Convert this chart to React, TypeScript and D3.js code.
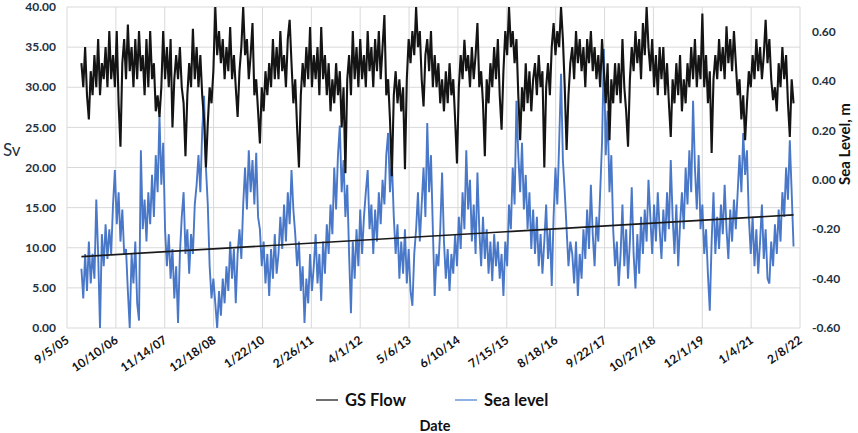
import React, { useEffect, useRef } from 'react';
import * as d3 from 'd3';

// semi-monthly readings, one row per year (2006..2021)
const years = [2006, 2007, 2008, 2009, 2010, 2011, 2012, 2013, 2014, 2015, 2016, 2017, 2018, 2019, 2020, 2021];
const samplesPerYear = 24;

// GS Flow, Sv (left axis)
const gsFlow: number[][] = [
  [33, 30, 35, 29, 26, 32, 29, 34, 30, 36, 29, 33, 31, 35, 30, 37, 31, 34, 30, 37, 28, 22.6, 33, 36],
  [31, 37.8, 32, 35, 30, 36, 31, 37, 32, 34, 29, 36, 30, 37, 31, 33, 27, 29, 26.3, 30, 37, 31, 35, 30],
  [36, 25, 31, 34, 31, 35, 30, 28, 21.4, 29, 33, 30, 37.3, 31, 35, 30, 34, 29, 26, 20, 25.5, 30, 28, 32],
  [40, 34, 37, 33, 36, 31, 35, 32, 37.5, 31, 34, 30, 26.3, 32, 35, 40, 34, 36, 31, 34, 38, 29, 31, 27],
  [23, 30, 27, 32, 29, 33, 30, 36, 31, 35, 31, 37, 32, 34, 30, 36, 38.4, 33, 28, 31, 25, 20, 29, 33],
  [30, 35, 31, 37.5, 30, 34, 31, 35, 29, 37.5, 31, 34, 29, 33, 27, 31, 28, 33, 29, 32, 25, 30, 19.3, 31],
  [34, 29, 37, 31, 35, 30, 36, 31, 34, 30, 37, 32, 35, 30, 36, 32, 37, 31, 35, 39, 29, 31, 26, 18.9],
  [29, 32, 28, 31, 27, 30, 19.8, 31, 36, 33, 37, 34, 40, 35, 37, 31, 27.6, 34, 36, 32, 37, 30, 34, 30],
  [33, 28, 31, 27, 32, 28, 33, 29, 31, 26, 20.5, 30, 34, 31, 35.9, 32, 34, 30, 35, 31, 34, 38, 30, 32],
  [28, 21.4, 31, 28, 33, 30, 35, 31, 36, 29, 24.7, 32, 37, 34, 40, 35, 37, 33, 36, 29, 23.4, 30, 27, 33],
  [28, 32, 27, 31, 33, 29, 34, 30, 32, 20, 30, 33, 29, 35, 38, 34, 37, 35, 40, 36, 30, 22.2, 29, 33],
  [35, 31, 37, 33, 36, 32, 35, 30, 36, 33, 37, 32, 35, 31, 34, 30, 36, 32, 28, 33, 23.4, 31, 28, 33],
  [29, 33, 28, 36, 30, 27, 22.6, 31, 35, 32, 37, 33, 36, 31, 38, 34, 40, 35, 32, 36, 30, 34, 29, 35],
  [31, 35, 29, 33, 28, 23.8, 31, 28, 33, 29, 34, 27, 31, 28, 33, 30, 35, 31, 36, 30, 34, 31, 39.2, 30],
  [34, 28, 32, 21.8, 31, 34, 31, 36, 32, 35, 31, 37.6, 33, 36, 32, 37, 33, 29, 31, 26, 29, 23.4, 28, 32],
  [30, 34, 31, 36, 32, 35, 31, 34, 38.4, 33, 36, 31, 28.4, 30, 27, 33, 30, 35, 31, 34, 28, 23.8, 31, 28],
];

// Sea level, m (right axis)
const seaLevel: number[][] = [
  [-0.36, -0.48, -0.3, -0.45, -0.25, -0.42, -0.3, -0.4, -0.08, -0.3, -0.6, -0.22, -0.35, -0.18, -0.32, -0.2, -0.3, -0.1, 0.04, -0.18, -0.05, -0.25, -0.12, -0.3],
  [-0.28, -0.45, -0.6, -0.3, -0.42, -0.25, -0.5, -0.57, 0.12, -0.2, -0.08, -0.25, -0.05, -0.18, 0.02, -0.15, 0.1, -0.05, 0.26, -0.02, 0.15, -0.2, -0.35, -0.22],
  [-0.4, -0.28, -0.48, -0.35, -0.58, -0.3, -0.15, -0.05, -0.3, -0.2, -0.38, -0.22, -0.3, -0.1, -0.02, 0.1, -0.05, 0.2, 0.34, 0.05, -0.1, -0.35, -0.48, -0.4],
  [-0.5, -0.6, -0.45, -0.55, -0.4, -0.5, -0.35, -0.45, -0.25, -0.4, -0.28, -0.5, -0.3, -0.2, -0.32, -0.1, 0.05, -0.12, 0.12, -0.05, 0.08, -0.1, 0.11, -0.15],
  [-0.2, -0.35, -0.25, -0.42, -0.3, -0.47, -0.28, -0.4, -0.22, -0.38, -0.3, -0.15, -0.28, -0.1, -0.25, -0.05, -0.18, 0.04, -0.12, -0.22, -0.35, -0.25, -0.45, -0.35],
  [-0.58, -0.4, -0.5, -0.3, -0.45, -0.35, -0.22, -0.42, -0.3, -0.49, -0.25, -0.38, -0.18, -0.3, -0.1, -0.22, 0.05, -0.12, 0.1, 0.22, -0.05, 0.08, -0.15, -0.02],
  [-0.3, -0.54, -0.25, -0.4, -0.2, -0.35, -0.12, -0.3, -0.15, -0.05, 0.04, -0.2, -0.1, -0.3, -0.12, -0.25, -0.05, -0.18, 0, -0.1, 0.1, 0.19, -0.05, 0.08],
  [-0.15, -0.3, -0.18, -0.4, -0.25, -0.38, -0.2, -0.42, -0.28, -0.45, -0.51, -0.3, -0.2, -0.05, -0.25, -0.1, 0.05, -0.15, 0.23, -0.05, 0.1, -0.2, -0.47, -0.3],
  [-0.35, -0.2, 0.03, -0.25, -0.4, -0.28, -0.45, -0.3, -0.38, -0.22, -0.35, -0.15, -0.28, -0.05, -0.2, 0.12, -0.12, 0, -0.25, -0.1, -0.3, 0.03, -0.2, -0.35],
  [-0.15, -0.32, -0.2, -0.38, -0.25, -0.41, -0.22, -0.35, -0.25, -0.4, -0.3, -0.47, -0.25, -0.35, -0.1, -0.2, 0.05, -0.1, 0.32, 0.1, -0.05, 0.15, -0.12, 0.02],
  [-0.2, -0.05, -0.28, -0.12, -0.3, -0.15, -0.35, -0.22, -0.38, -0.25, -0.1, -0.32, -0.2, -0.43, -0.15, 0.05, -0.1, 0.15, 0.43, 0.08, -0.05, -0.2, -0.35, -0.25],
  [-0.3, -0.42, -0.25, -0.47, -0.3, -0.4, -0.2, -0.32, -0.12, -0.28, -0.02, -0.22, -0.35, -0.15, -0.25, -0.05, 0.15, 0.53, 0.1, 0.28, -0.05, 0.1, -0.2, -0.35],
  [-0.25, -0.43, -0.3, -0.1, -0.35, -0.2, -0.4, -0.25, -0.03, -0.3, -0.44, -0.22, -0.38, -0.15, -0.3, -0.12, -0.25, 0, -0.15, -0.3, -0.1, -0.25, -0.05, -0.2],
  [-0.32, -0.12, -0.25, -0.05, -0.2, 0.08, -0.15, -0.3, -0.1, -0.35, -0.18, -0.05, -0.2, 0.05, -0.1, 0.12, -0.05, 0.32, 0.05, -0.12, 0.1, -0.2, -0.1, -0.3],
  [-0.2, -0.38, -0.53, -0.25, -0.05, -0.3, -0.15, -0.28, -0.1, -0.22, -0.02, -0.2, -0.32, -0.12, -0.25, -0.08, -0.2, -0.05, 0.1, -0.05, 0.19, 0.02, 0.12, -0.15],
  [-0.3, -0.15, -0.35, -0.2, -0.38, -0.25, -0.1, -0.32, -0.2, -0.4, -0.42, -0.25, -0.35, -0.18, -0.3, -0.12, -0.25, -0.05, -0.15, 0.05, -0.08, 0.16, -0.05, -0.27],
];

// linear trend of sea level, first and last sample
const seaLevelTrend = [-0.311, -0.142];

const dateTicks = ['9/5/05', '10/10/06', '11/14/07', '12/18/08', '1/22/10', '2/26/11', '4/1/12', '5/6/13',
  '6/10/14', '7/15/15', '8/18/16', '9/22/17', '10/27/18', '12/1/19', '1/4/21', '2/8/22'];
const leftTicks = [0, 5, 10, 15, 20, 25, 30, 35, 40];
const rightTicks = [-0.6, -0.4, -0.2, 0, 0.2, 0.4, 0.6];

const W = 858;
const H = 433;

const App: React.FC = () => {
  const svgRef = useRef<SVGSVGElement>(null);

  useEffect(() => {
    if (!svgRef.current) return;
    const svg = d3.select(svgRef.current);
    svg.selectAll('*').remove();

    const margin = { top: 7, right: 58, bottom: 105, left: 67 };
    const x0 = margin.left, x1 = W - margin.right;
    const y0 = margin.top, y1 = H - margin.bottom;

    const parse = d3.timeParse('%m/%d/%y');
    const tickDates = dateTicks.map(s => parse(s) as Date);

    const x = d3.scaleTime().domain([tickDates[0], tickDates[tickDates.length - 1]]).range([x0, x1]);
    const yL = d3.scaleLinear().domain([0, 40]).range([y1, y0]);
    const yR = d3.scaleLinear().domain([-0.6, 0.7]).range([y1, y0]);

    const dayMs = 86400000;
    const step = 365.25 / samplesPerYear;
    const toPoints = (rows: number[][]) =>
      rows.flatMap((row, i) => {
        const start = new Date(years[i], 0, 1).getTime();
        return row.map((v, k) => ({ date: new Date(start + k * step * dayMs), v }));
      });
    const flowPts = toPoints(gsFlow);
    const seaPts = toPoints(seaLevel);

    const clipId = 'plot-clip';
    svg.append('defs').append('clipPath').attr('id', clipId)
      .append('rect').attr('x', x0).attr('y', y0).attr('width', x1 - x0).attr('height', y1 - y0);

    // gridlines
    const grid = svg.append('g').attr('stroke', '#d9d9d9').attr('stroke-width', 1);
    grid.selectAll('line.h').data(leftTicks).enter().append('line')
      .attr('x1', x0).attr('x2', x1)
      .attr('y1', d => yL(d)).attr('y2', d => yL(d));
    grid.selectAll('line.v').data(tickDates).enter().append('line')
      .attr('x1', d => x(d)).attr('x2', d => x(d))
      .attr('y1', y0).attr('y2', y1);

    const plot = svg.append('g').attr('clip-path', `url(#${clipId})`);

    const seaLine = d3.line<{ date: Date; v: number }>().x(d => x(d.date)).y(d => yR(d.v));
    plot.append('path').datum(seaPts)
      .attr('fill', 'none').attr('stroke', '#4a78c8').attr('stroke-width', 1.9)
      .attr('d', seaLine);

    const flowLine = d3.line<{ date: Date; v: number }>().x(d => x(d.date)).y(d => yL(d.v));
    plot.append('path').datum(flowPts)
      .attr('fill', 'none').attr('stroke', '#141414').attr('stroke-width', 2.1)
      .attr('d', flowLine);

    // trend line
    const trendPts = [
      { date: seaPts[0].date, v: seaLevelTrend[0] },
      { date: seaPts[seaPts.length - 1].date, v: seaLevelTrend[1] },
    ];
    plot.append('path').datum(trendPts)
      .attr('fill', 'none').attr('stroke', '#1a1a1a').attr('stroke-width', 1.6)
      .attr('d', seaLine);

    const font = 'Lato, "Open Sans", sans-serif';
    const navy = '#1c3142';

    // left axis labels
    svg.append('g').selectAll('text').data(leftTicks).enter().append('text')
      .attr('x', x0 - 11).attr('y', d => yL(d)).attr('dy', '0.35em')
      .attr('text-anchor', 'end').attr('font-family', font).attr('font-weight', 700)
      .attr('font-size', 12).attr('fill', navy)
      .text(d => d.toFixed(2));

    // right axis labels
    svg.append('g').selectAll('text').data(rightTicks).enter().append('text')
      .attr('x', x1 + 12).attr('y', d => yR(d)).attr('dy', '0.35em')
      .attr('text-anchor', 'start').attr('font-family', font).attr('font-weight', 700)
      .attr('font-size', 12).attr('fill', navy)
      .text(d => d.toFixed(2));

    // date labels
    svg.append('g').selectAll('text').data(tickDates).enter().append('text')
      .attr('transform', d => `translate(${x(d) + 3},${y1 + 14}) rotate(-35)`)
      .attr('text-anchor', 'end').attr('font-family', font).attr('font-weight', 700)
      .attr('font-size', 12).attr('fill', '#111')
      .text((_, i) => dateTicks[i]);

    // axis titles
    svg.append('text')
      .attr('x', 3).attr('y', 156)
      .attr('font-family', font).attr('font-size', 17).attr('fill', navy)
      .text('Sv');
    svg.append('text')
      .attr('transform', `translate(850,144) rotate(-90)`)
      .attr('text-anchor', 'middle').attr('font-family', font).attr('font-weight', 700)
      .attr('font-size', 15).attr('fill', '#111')
      .text('Sea Level, m');
    svg.append('text')
      .attr('x', 435).attr('y', 431)
      .attr('text-anchor', 'middle').attr('font-family', font).attr('font-weight', 700)
      .attr('font-size', 14.5).attr('fill', '#111')
      .text('Date');

    // legend
    const legend = [
      { label: 'GS Flow', color: '#6f6f6f', lx: 316 },
      { label: 'Sea level', color: '#8fb0e3', lx: 455 },
    ];
    const lg = svg.append('g');
    legend.forEach(l => {
      lg.append('line').attr('x1', l.lx).attr('x2', l.lx + 22).attr('y1', 400).attr('y2', 400)
        .attr('stroke', l.color).attr('stroke-width', 2);
      lg.append('text').attr('x', l.lx + 29).attr('y', 400).attr('dy', '0.35em')
        .attr('font-family', font).attr('font-weight', 700).attr('font-size', 16.5).attr('fill', '#111')
        .text(l.label);
    });
  }, []);

  return (
    <svg ref={svgRef} width={W} height={H}
      style={{ position: 'absolute', left: 0, top: 0, background: '#fff' }} />
  );
};

export default App;
